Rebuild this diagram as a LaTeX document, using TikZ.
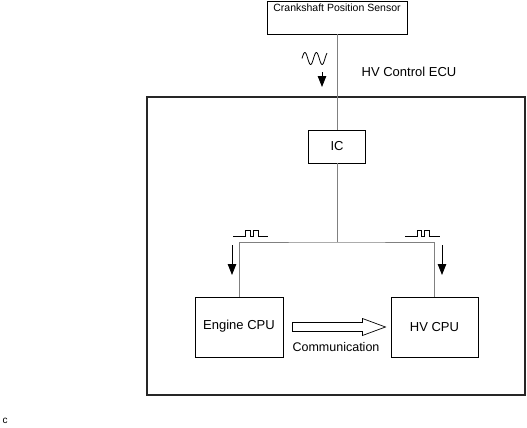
\documentclass[tikz,border=0pt]{standalone}
\usepackage{fontspec}
\setmainfont{Liberation Sans}
\usetikzlibrary{arrows.meta}
\begin{document}
\begin{tikzpicture}[x=1pt,y=-1pt,
    box/.style={draw,line width=0.9pt,inner sep=0pt},
    wire/.style={draw=gray,line width=0.8pt},
    sig/.style={line width=0.8pt,-{Triangle[width=8.5pt,length=11pt]}},
    pulse/.style={line width=0.7pt},
    font=\fontsize{13}{15}\selectfont]
    \useasboundingbox (0,0) rectangle (527,428);
    % sensor, ECU and its parts
    \node[box,minimum width=140pt,minimum height=33pt,
        label={[anchor=north,inner sep=3pt,font=\fontsize{10.5}{12}\selectfont]north:Crankshaft Position Sensor}] (sensor) at (337,17.5) {};
    \node[draw=black!85,line width=1.5pt,minimum width=378pt,minimum height=298pt] (ecu) at (336,246) {};
    \node (ecuname) at (409,72) {HV Control ECU};
    \node[box,minimum width=57pt,minimum height=33pt] (ic) at (337,146.5) {IC};
    \node[box,minimum width=88pt,minimum height=60pt] (engine) at (239,327) {\raisebox{4pt}{Engine CPU}};
    \node[box,minimum width=87pt,minimum height=60pt] (hv) at (434.5,327) {HV CPU};
    \coordinate (split) at (337,242);
    % wiring
    \draw[wire] (sensor.south) -- (ic.north);
    \draw[wire] (ic.south) -- (split);
    \draw[wire] (engine.north) |- (split) -| (hv.north);
    % signals
    \draw[line width=0.8pt] plot[domain=0:25,samples=80,smooth] ({302+\x},{58.5-6*sin(\x*360/11.5)});
    \draw[sig] (322,72) -- (322,87);
    \draw[pulse] (233,236) -- (245,236) -- (245,230) -- (250,230) -- (250,236) -- (253,236) -- (253,230) -- (258,230) -- (258,236) -- (268,236);
    \draw[pulse] (405,236) -- (417,236) -- (417,230) -- (421,230) -- (421,236) -- (424,236) -- (424,230) -- (429,230) -- (429,236) -- (440,236);
    \draw[sig] (232,245) -- (232,275);
    \draw[sig] (442,245) -- (442,275);
    % communication
    \draw[line width=0.7pt,shift={(engine.east)}] (9,-4.5) -- (79,-4.5) -- (79,-8.5) -- (102,0) -- (79,8.5) -- (79,4.5) -- (9,4.5) -- cycle;
    \node[font=\fontsize{12.5}{14}\selectfont] (comm) at (336,347) {Communication};
    \node[font=\fontsize{10}{11}\selectfont] (tag) at (5,421) {c};
\end{tikzpicture}
\end{document}
